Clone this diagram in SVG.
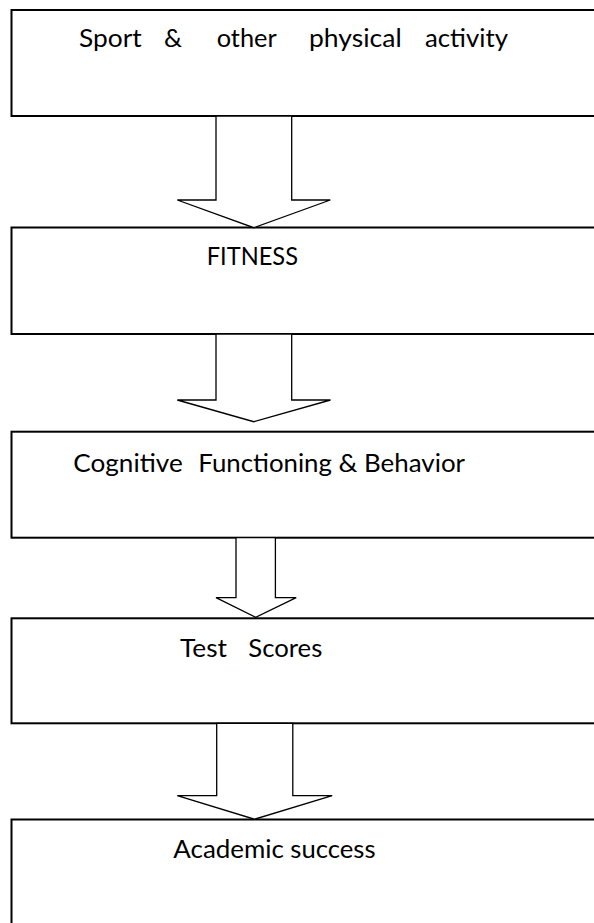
<svg xmlns="http://www.w3.org/2000/svg" width="594" height="923" viewBox="0 0 594 923">
<style>
  .box { fill: #ffffff; stroke: #000000; stroke-width: 2; }
  .arr { fill: #ffffff; stroke: #000000; stroke-width: 1.3; stroke-linejoin: miter; }
  .lbl { font-family: Lato, "Open Sans", "Liberation Sans", sans-serif; font-size: 24.5px; fill: #000000; }
</style>
<rect x="0" y="0" width="594" height="923" fill="#ffffff"/>
<g id="node-sport">
  <rect class="box" x="11.5" y="10" width="600" height="106"/>
  <text class="lbl" y="46.7"><tspan x="79" textLength="62.7" lengthAdjust="spacingAndGlyphs">Sport</tspan><tspan x="164" textLength="18" lengthAdjust="spacingAndGlyphs">&amp;</tspan><tspan x="216.7" textLength="60" lengthAdjust="spacingAndGlyphs">other</tspan><tspan x="309" textLength="92.7" lengthAdjust="spacingAndGlyphs">physical</tspan><tspan x="425" textLength="83" lengthAdjust="spacingAndGlyphs">activity</tspan></text>
</g>
<g id="node-fitness">
  <rect class="box" x="11.5" y="227.5" width="600" height="106.5"/>
  <text class="lbl" x="206.7" y="265" textLength="91.3" lengthAdjust="spacingAndGlyphs">FITNESS</text>
</g>
<g id="node-cognitive">
  <rect class="box" x="11.5" y="431.7" width="600" height="106"/>
  <text class="lbl" y="471.7"><tspan x="73.3" textLength="109.4" lengthAdjust="spacingAndGlyphs">Cognitive</tspan><tspan x="198.3" textLength="133.6" lengthAdjust="spacingAndGlyphs">Functioning</tspan><tspan x="338.5" textLength="19" lengthAdjust="spacingAndGlyphs">&amp;</tspan><tspan x="364" textLength="101" lengthAdjust="spacingAndGlyphs">Behavior</tspan></text>
</g>
<g id="node-test">
  <rect class="box" x="11.5" y="618.3" width="600" height="105"/>
  <text class="lbl" y="656.7"><tspan x="180" textLength="47" lengthAdjust="spacingAndGlyphs">Test</tspan><tspan x="248.3" textLength="74" lengthAdjust="spacingAndGlyphs">Scores</tspan></text>
</g>
<g id="node-academic">
  <rect class="box" x="11.5" y="819.5" width="600" height="200"/>
  <text class="lbl" y="858.3"><tspan x="173.3" textLength="110.7" lengthAdjust="spacingAndGlyphs">Academic</tspan><tspan x="290.3" textLength="85.2" lengthAdjust="spacingAndGlyphs">success</tspan></text>
</g>
<g id="connectors">
  <polygon class="arr" points="216,116 216,200 177.3,200 253.8,227.7 330.3,200 291.7,200 291.7,116"/>
  <polygon class="arr" points="216,334 216,400 177.3,400 253.8,421.7 330.5,400 291.7,400 291.7,334"/>
  <polygon class="arr" points="236,537.7 236,597.7 216,597.7 255.7,617.3 296.2,597.7 275.4,597.7 275.4,537.7"/>
  <polygon class="arr" points="216.7,723.3 216.7,795.7 177.3,795.7 254.5,819.2 332.2,795.7 292.8,795.7 292.8,723.3"/>
</g>
</svg>
